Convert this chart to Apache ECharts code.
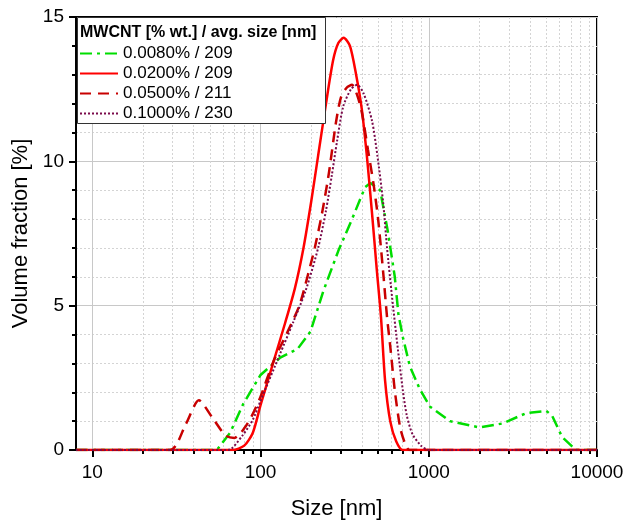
<!DOCTYPE html>
<html>
<head>
<meta charset="utf-8">
<script src="https://cdn.jsdelivr.net/npm/echarts@6/dist/echarts.min.js"></script>
<style>
  html, body { margin: 0; padding: 0; background: #fff; }
  #chart { width: 627px; height: 525px; }
</style>
</head>
<body>
<div id="chart"></div>
<script>
// size [nm] / volume fraction [%]
var sizeA = [8, 55, 66, 79, 100, 131, 166, 198, 236, 290, 350, 418, 450, 514, 570, 628, 660, 702, 772, 886, 1018, 1335, 2005, 2750, 3800, 5000, 5400, 6200, 7500, 10000];
var volA  = [0, 0, 0.6, 1.6, 2.6, 3.2, 3.5, 4.1, 5.5, 6.9, 8.0, 9.1, 9.25, 9.0, 7.6, 6.0, 4.7, 3.9, 2.9, 2.1, 1.5, 1.0, 0.78, 0.92, 1.28, 1.35, 1.2, 0.45, 0, 0];

var sizeB = [8, 68, 80, 90, 100, 120, 140, 160, 180, 200, 220, 245, 270, 290, 312, 340, 370, 400, 430, 460, 490, 520, 550, 590, 640, 700, 10000];
var volB  = [0, 0, 0.15, 0.6, 1.55, 3.1, 4.4, 5.6, 7.0, 8.6, 10.2, 12.0, 13.5, 14.1, 14.28, 14.0, 13.0, 11.8, 10.1, 8.2, 6.3, 4.6, 2.4, 1.0, 0.3, 0, 0];

var sizeC = [8, 29, 36, 43, 52, 62, 70, 80, 90, 100, 120, 145, 170, 190, 210, 232, 255, 280, 300, 325, 350, 375, 400, 435, 470, 500, 535, 565, 590, 630, 675, 720, 770, 10000];
var volC  = [0, 0, 0.9, 1.72, 1.1, 0.5, 0.42, 0.75, 1.25, 1.85, 3.1, 4.1, 5.0, 6.0, 7.0, 8.2, 9.6, 11.3, 12.2, 12.55, 12.65, 12.3, 11.7, 10.4, 9.2, 8.0, 6.2, 4.6, 3.6, 2.0, 0.8, 0.25, 0, 0];

var sizeD = [8, 64, 78, 90, 100, 130, 157, 185, 220, 245, 265, 285, 310, 345, 375, 410, 460, 495, 535, 565, 605, 655, 700, 740, 800, 900, 1000, 10000];
var volD  = [0, 0, 0.5, 1.05, 1.7, 3.3, 4.45, 5.5, 7.0, 8.3, 9.5, 10.7, 11.9, 12.5, 12.65, 12.35, 11.4, 10.2, 8.6, 7.0, 5.3, 3.5, 2.1, 1.2, 0.55, 0.15, 0, 0];

var seriesNames = ['0.0080% / 209', '0.0200% / 209', '0.0500% / 211', '0.1000% / 230'];
var legendTitle = 'MWCNT [% wt.] / avg. size [nm]';

var xMajor = [10, 100, 1000, 10000];
var xMinor = [20, 30, 40, 50, 60, 70, 80, 90, 200, 300, 400, 500, 600, 700, 800, 900, 2000, 3000, 4000, 5000, 6000, 7000, 8000, 9000];

function pairs(xs, ys) {
    return xs.map(function (x, i) { return [x, ys[i]]; });
}

var font = 'Liberation Sans, Arial, sans-serif';
var chart = echarts.init(document.getElementById('chart'));

chart.setOption({
    animation: false,
    backgroundColor: '#fff',
    grid: {
        left: 76, right: 30, top: 17, bottom: 73,
        show: true, borderColor: '#000', borderWidth: 2, backgroundColor: 'transparent'
    },
    graphic: [
        { type: 'rect', left: 77, top: 17, z: 90,
          shape: { width: 248, height: 106 },
          style: { fill: '#fff', stroke: '#333', lineWidth: 1 } },
        { type: 'text', left: 80, top: 25, z: 101,
          style: { text: legendTitle, font: 'bold 16px ' + font, fill: '#000' } }
    ],
    legend: {
        orient: 'vertical', left: 79, top: 45, padding: 0, z: 100,
        itemWidth: 38, itemHeight: 14, itemGap: 3,
        itemStyle: { opacity: 0 },
        textStyle: { fontFamily: font, fontSize: 17, color: '#000' },
        data: seriesNames
    },
    xAxis: [{
        type: 'log', logBase: 10, min: 8, max: 10000,
        name: 'Size [nm]', nameLocation: 'middle', nameGap: 48,
        nameTextStyle: { fontFamily: font, fontSize: 22, color: '#000' },
        axisLine: { onZero: false, lineStyle: { color: '#000', width: 2 } },
        axisTick: { show: true, length: 7, lineStyle: { color: '#000', width: 2 }, customValues: xMajor },
        axisLabel: {
            fontFamily: font, fontSize: 19, color: '#000', margin: 13, customValues: xMajor,
            formatter: function (v) { return String(Math.round(v)); }
        },
        splitLine: { show: true, lineStyle: { color: '#c8c8c8', width: 1 } }
    }, {
        type: 'log', logBase: 10, min: 8, max: 10000, position: 'bottom', gridIndex: 0,
        axisLine: { show: false },
        axisTick: { show: true, length: 4, lineStyle: { color: '#000', width: 2 }, customValues: xMinor },
        axisLabel: { show: false },
        splitLine: { show: true, lineStyle: { color: '#d4d4d4', width: 1, type: [2, 2] } }
    }],
    yAxis: {
        type: 'value', min: 0, max: 15, interval: 5,
        name: 'Volume fraction [%]', nameLocation: 'middle', nameGap: 44,
        nameTextStyle: { fontFamily: font, fontSize: 22, color: '#000' },
        axisLine: { show: true, lineStyle: { color: '#000', width: 2 } },
        axisTick: { show: true, length: 7, lineStyle: { color: '#000', width: 2 } },
        minorTick: { show: true, splitNumber: 5, length: 4, lineStyle: { color: '#000', width: 2 } },
        axisLabel: { fontFamily: font, fontSize: 19, color: '#000', margin: 12 },
        splitLine: { show: true, lineStyle: { color: '#c8c8c8', width: 1 } },
        minorSplitLine: { show: true, lineStyle: { color: '#d4d4d4', width: 1, type: [2, 2] } }
    },
    series: [{
        name: seriesNames[0], type: 'line', showSymbol: false, symbol: 'none',
        data: pairs(sizeA, volA),
        lineStyle: { color: '#00dd00', width: 2.5, type: [12, 5, 3, 5] },
        itemStyle: { color: '#00dd00' }
    }, {
        name: seriesNames[1], type: 'line', showSymbol: false, symbol: 'none',
        smooth: 0.25,
        data: pairs(sizeB, volB),
        lineStyle: { color: '#ff0000', width: 2.5 },
        itemStyle: { color: '#ff0000' }
    }, {
        name: seriesNames[2], type: 'line', showSymbol: false, symbol: 'none',
        smooth: 0.25,
        data: pairs(sizeC, volC),
        lineStyle: { color: '#c80000', width: 2.5, type: [11, 7] },
        itemStyle: { color: '#c80000' }
    }, {
        name: seriesNames[3], type: 'line', showSymbol: false, symbol: 'none',
        smooth: 0.25,
        data: pairs(sizeD, volD),
        lineStyle: { color: '#7a0a4a', width: 2, type: [2, 2] },
        itemStyle: { color: '#7a0a4a' }
    }]
});
</script>
</body>
</html>
